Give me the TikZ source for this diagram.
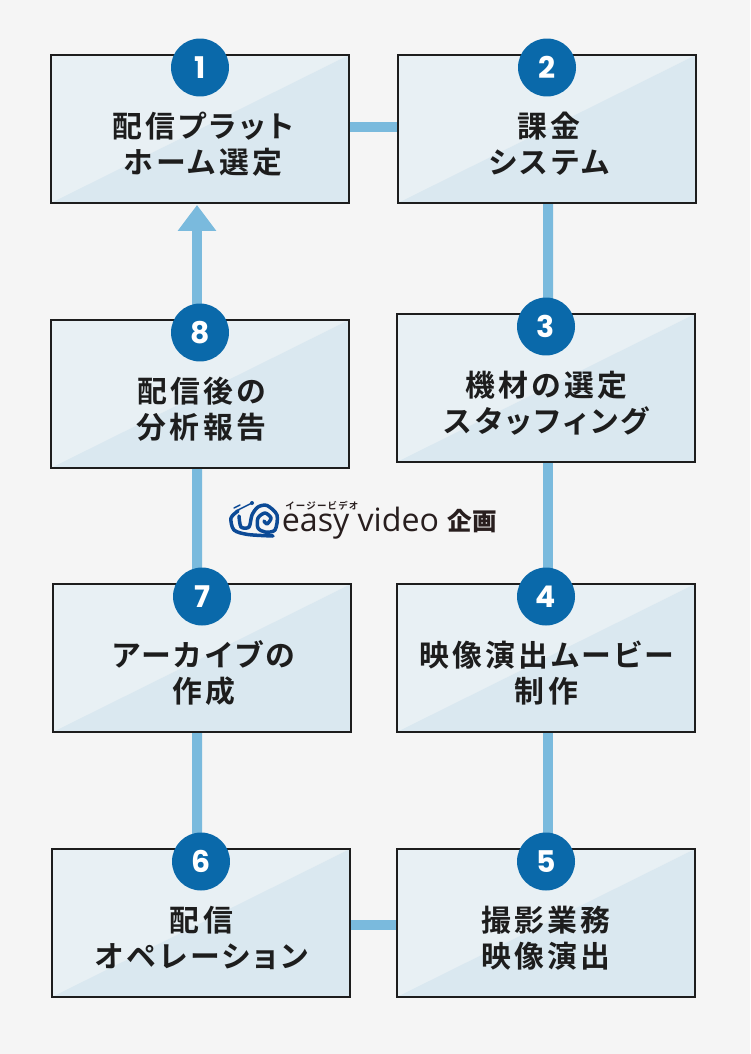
\documentclass[tikz,border=0pt]{standalone}
\usepackage{fontspec}
\setmainfont{Noto Sans CJK JP}
\newfontfamily\labelfont[LetterSpace=11,RawFeature=+palt]{Noto Sans CJK JP Bold}
\newfontfamily\rubyfont[LetterSpace=12]{Noto Sans CJK JP Bold}
\newfontfamily\numfont{Poppins}
\newfontfamily\logofont{Open Sans}
\usetikzlibrary{backgrounds, arrows.meta}
\pgfdeclarelayer{page}
\pgfsetlayers{page,background,main}

\definecolor{pagebg}{RGB}{245,245,245}
\definecolor{boxlight}{RGB}{232,240,244}
\definecolor{boxdark}{RGB}{218,232,240}
\definecolor{boxline}{RGB}{29,29,29}
\definecolor{badgeblue}{RGB}{10,105,170}
\definecolor{linkblue}{RGB}{122,186,221}
\definecolor{logoblue}{RGB}{12,74,150}
\definecolor{logotext}{RGB}{40,30,30}

\tikzset{
  stepbox/.style={draw=boxline, line width=0.04cm, fill=boxlight, minimum width=5.96cm, minimum height=2.96cm, inner sep=0pt,
    path picture={\fill[boxdark] (path picture bounding box.north east) -- (path picture bounding box.south west) -- (path picture bounding box.south east) -- cycle;}},
  steptext/.style={align=center, text=boxline, inner sep=0pt, xshift=0.02cm, font=\labelfont\fontsize{17}{20.4}\selectfont},
  badge/.style={circle, fill=badgeblue, text=white, minimum size=1.16cm, inner sep=0pt, font=\numfont\bfseries\fontsize{17}{17}\selectfont},
  link/.style={linkblue, line width=0.2cm},
  uparrow/.style={link, -{Triangle[length=0.52cm, width=0.74cm]}},
  snail/.style={logoblue, line width=0.07cm, line cap=round, line join=round}
}

\begin{document}
\begin{tikzpicture}[x=0.02cm, y=-0.02cm]

% Page
\begin{pgfonlayer}{page}
\fill[pagebg] (0,0) rectangle (750,1054);
\end{pgfonlayer}
\useasboundingbox (0,0) rectangle (750,1054);

% Boxes
\node[stepbox] (s1) at (200,129) {};
\node[stepbox] (s2) at (547,129) {};
\node[stepbox] (s3) at (546,388) {};
\node[stepbox] (s4) at (546,658) {};
\node[stepbox] (s5) at (546,923) {};
\node[stepbox] (s6) at (201,923) {};
\node[stepbox] (s7) at (202,658) {};
\node[stepbox] (s8) at (200,394) {};

% Labels
\node[steptext] (t1) at (202,144) {配信プラット\\ホーム選定};
\node[steptext] (t2) at (548,144) {課金\\システム};
\node[steptext] (t3) at (545.5,403) {機材の選定\\スタッフィング};
\node[steptext] (t4) at (545.5,673) {映像演出ムービー\\制作};
\node[steptext] (t5) at (545,938) {撮影業務\\映像演出};
\node[steptext] (t6) at (200.5,938) {配信\\オペレーション};
\node[steptext] (t7) at (203,673) {アーカイブの\\作成};
\node[steptext] (t8) at (200.5,409) {配信後の\\分析報告};

% Numbers
\node[badge] (n1) at (200,67.5) {1};
\node[badge] (n2) at (547,67.5) {2};
\node[badge] (n3) at (546,326.5) {3};
\node[badge] (n4) at (546,596.5) {4};
\node[badge] (n5) at (546,861.5) {5};
\node[badge] (n6) at (201,861.5) {6};
\node[badge] (n7) at (202,596.5) {7};
\node[badge] (n8) at (200,332.5) {8};

% Connectors
\begin{scope}[on background layer]
\draw[link] ([yshift=0.04cm]s1.east) -- ([yshift=0.04cm]s2.west);
\draw[link] ([xshift=0.02cm]s2.south) -- ([xshift=0.04cm]s3.north);
\draw[link] ([xshift=0.04cm]s3.south) -- ([xshift=0.04cm]s4.north);
\draw[link] ([xshift=0.04cm]s4.south) -- ([xshift=0.04cm]s5.north);
\draw[link] ([yshift=-0.04cm]s5.west) -- ([yshift=-0.04cm]s6.east);
\draw[link] ([xshift=-0.08cm]s6.north) -- ([xshift=-0.1cm]s7.south);
\draw[link] ([xshift=-0.1cm]s7.north) -- ([xshift=-0.06cm]s8.south);
\draw[uparrow] ([xshift=-0.06cm]s8.north) -- ([xshift=-0.06cm, yshift=-0.02cm]s1.south);
\end{scope}

% Logo
\draw[snail] plot[smooth] coordinates {(238,511) (231,518) (234,530) (248,534.5) (273,536)};
\draw[snail] plot[smooth] coordinates {(239,516) (241,527) (249,527) (252,515) (258,507) (267,505.5) (277,515) (275,530) (265,532) (258,528) (258,518) (265,513) (271,518) (267,524) (264,521)};
\draw[snail, line width=0.03cm] (236,511) -- (252,503);
\draw[snail, line width=0.03cm] (234,508) -- (240,505);
\fill[logoblue] (252,503) circle (2);
\node[font=\logofont\fontsize{18.3}{18.3}\selectfont, text=logotext, anchor=base west, inner sep=0pt] (logo) at (281.5,531) {easy video};
\node[font=\rubyfont\fontsize{5.4}{5.4}\selectfont, text=logotext, anchor=base west, inner sep=0pt] (ruby) at (285,509.5) {イージービデオ};
\node[font=\fontsize{14}{14}\selectfont\bfseries, text=logotext, anchor=base west, inner sep=0pt] (plan) at (447.5,530) {企画};

\end{tikzpicture}
\end{document}
